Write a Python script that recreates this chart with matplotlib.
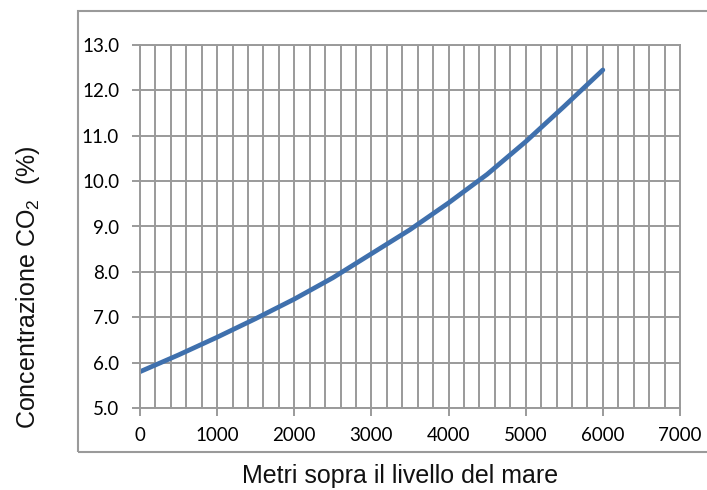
import matplotlib
matplotlib.use("Agg")
import matplotlib.pyplot as plt
from matplotlib.patches import Rectangle

# altitude (m) and CO2 concentration (%)
altitude = [0, 500, 1000, 1500, 2000, 2500, 3000, 3500, 4000, 4500, 5000, 5500, 6000]
co2 = [5.80, 6.17, 6.56, 6.97, 7.40, 7.87, 8.40, 8.93, 9.52, 10.15, 10.87, 11.65, 12.45]

x_ticks = [0, 1000, 2000, 3000, 4000, 5000, 6000, 7000]
y_ticks = [5.0, 6.0, 7.0, 8.0, 9.0, 10.0, 11.0, 12.0, 13.0]

plt.rcParams['mathtext.fontset'] = 'custom'
plt.rcParams['mathtext.rm'] = 'Liberation Sans'
plt.rcParams['mathtext.it'] = 'Liberation Sans'

grid_col = '#9a9a9a'

fig = plt.figure(figsize=(7.07, 4.9), dpi=100)
ax = fig.add_axes([140/707, 1-408/490, 540/707, 363/490])

# outer chart box (runs off the right edge)
fig.patches.append(Rectangle((78/707, 1-452/490), 1.0, (452-11)/490,
                             transform=fig.transFigure, fill=False,
                             edgecolor=grid_col, linewidth=1.5))

ax.plot(altitude, co2, color='#3F70AD', linewidth=3.4, solid_capstyle='round')

ax.set_xlim(0, 7000)
ax.set_ylim(5, 13)
ax.set_xticks(x_ticks)
ax.set_yticks(y_ticks)
ax.set_xticks(range(0, 7001, 200), minor=True)
ax.set_yticklabels(['%.1f' % v for v in y_ticks])
ax.grid(True, which='both', axis='x', color=grid_col, linewidth=1.4)
ax.grid(True, which='major', axis='y', color=grid_col, linewidth=1.4)
ax.set_axisbelow(True)
ax.tick_params(axis='x', which='minor', length=0)
ax.tick_params(axis='both', which='major', length=6, width=1.4, color=grid_col,
               labelsize=13.5, pad=8)
ax.tick_params(axis='y', pad=9)
for lab in ax.get_xticklabels() + ax.get_yticklabels():
    lab.set_family('Lato')
for s in ax.spines.values():
    s.set_color(grid_col)
    s.set_linewidth(1.4)

fig.text(400/707, 1-476/490, 'Metri sopra il livello del mare', ha='center', va='center',
         fontsize=18, family='Liberation Sans', color='#111111')
fig.text(28/707, 1-287/490, 'Concentrazione CO$_2$  (%)', ha='center', va='center',
         rotation=90, fontsize=18, family='Liberation Sans', color='#111111')

fig.savefig('out.png', dpi=100)
